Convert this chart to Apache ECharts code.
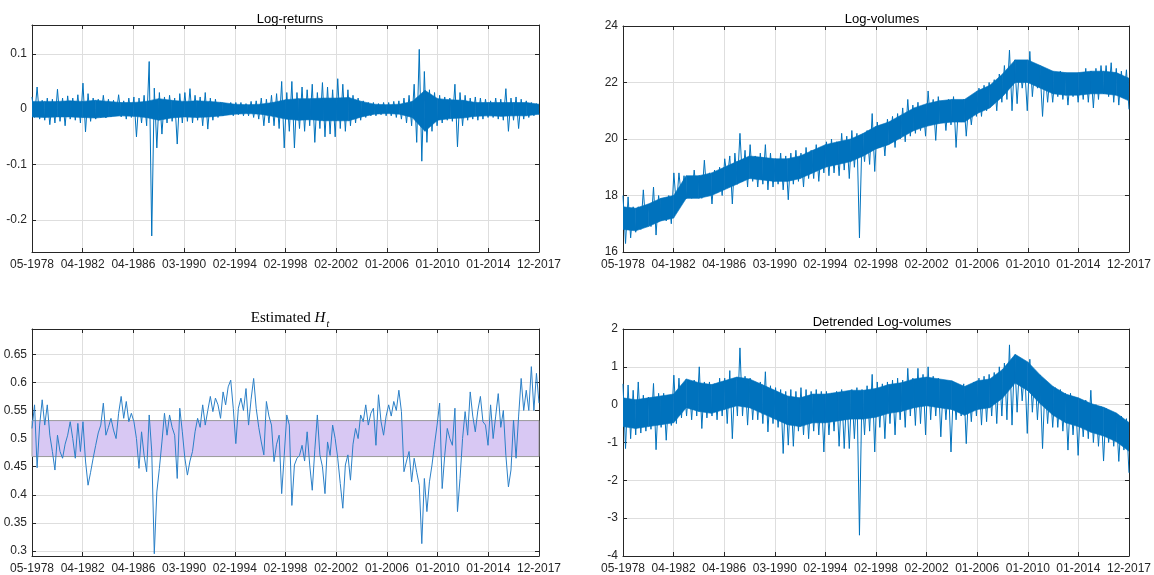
<!DOCTYPE html>
<html>
<head>
<meta charset="utf-8">
<script src="https://cdn.jsdelivr.net/npm/echarts@6/dist/echarts.min.js"></script>
<style>html,body{margin:0;padding:0;background:#fff;}#c{width:1154px;height:575px;}</style>
</head>
<body>
<div id="c"></div>
<script>
const tickLabels = ['05-1978','04-1982','04-1986','03-1990','02-1994','02-1998','02-2002','01-2006','01-2010','01-2014','12-2017'];

// Log-returns: upper / lower envelope per tenth of a tick interval
const retHi = [0.022,0.040,0.016,0.020,0.018,0.036,0.020,0.024,0.020,0.026,
0.047,0.028,0.020,0.018,0.025,0.018,0.016,0.026,0.015,0.020,
0.022,0.020,0.025,0.086,0.038,0.030,0.022,0.025,0.020,0.028,
0.030,0.037,0.025,0.022,0.030,0.020,0.018,0.012,0.010,0.012,
0.012,0.012,0.010,0.014,0.015,0.020,0.018,0.025,0.028,0.050,
0.030,0.050,0.030,0.040,0.035,0.045,0.030,0.048,0.040,0.035,
0.055,0.045,0.035,0.025,0.020,0.015,0.012,0.012,0.010,0.012,
0.012,0.014,0.015,0.020,0.025,0.045,0.108,0.068,0.035,0.030,
0.025,0.022,0.020,0.045,0.030,0.025,0.020,0.022,0.020,0.018,
0.015,0.020,0.018,0.037,0.020,0.022,0.018,0.015,0.012,0.010];
const retLo = [-0.015,-0.018,-0.020,-0.028,-0.025,-0.022,-0.030,-0.018,-0.020,-0.025,
-0.041,-0.022,-0.018,-0.015,-0.016,-0.014,-0.012,-0.014,-0.018,-0.015,
-0.050,-0.025,-0.030,-0.229,-0.070,-0.045,-0.025,-0.022,-0.063,-0.025,
-0.022,-0.025,-0.020,-0.030,-0.036,-0.020,-0.015,-0.012,-0.010,-0.012,
-0.010,-0.012,-0.012,-0.015,-0.018,-0.030,-0.025,-0.030,-0.035,-0.070,
-0.040,-0.070,-0.035,-0.040,-0.030,-0.060,-0.035,-0.050,-0.045,-0.050,
-0.035,-0.040,-0.030,-0.025,-0.020,-0.015,-0.012,-0.012,-0.010,-0.012,
-0.012,-0.015,-0.018,-0.025,-0.030,-0.060,-0.094,-0.060,-0.040,-0.030,
-0.025,-0.020,-0.022,-0.068,-0.030,-0.020,-0.018,-0.020,-0.018,-0.015,
-0.015,-0.018,-0.020,-0.040,-0.020,-0.035,-0.018,-0.015,-0.012,-0.010];
// dense core of the log-returns, every quarter tick interval
const retCoreHi = [0.014,0.014,0.014,0.015,0.014, 0.016,0.014,0.012,0.012, 0.014,0.019,0.016,0.014,
0.015,0.014,0.012,0.009, 0.008,0.009,0.012,0.017, 0.019,0.019,0.020,0.020, 0.021,0.014,0.009,0.008,
0.009,0.014,0.034,0.019, 0.017,0.016,0.012,0.012, 0.012,0.012,0.012,0.009];
const retCoreLo = [-0.014,-0.015,-0.014,-0.014,-0.015, -0.016,-0.014,-0.012,-0.013, -0.015,-0.020,-0.016,-0.014,
-0.015,-0.014,-0.012,-0.009, -0.008,-0.009,-0.013,-0.018, -0.020,-0.019,-0.021,-0.021, -0.021,-0.014,-0.009,-0.008,
-0.009,-0.015,-0.040,-0.020, -0.017,-0.016,-0.013,-0.012, -0.013,-0.012,-0.012,-0.009];

// Log-volumes envelope
const volHi = [18.0,17.95,17.6,17.6,18.2,17.7,18.3,18.0,17.9,18.0,
18.8,18.8,18.7,18.6,18.9,18.7,19.25,18.8,18.9,19.0,
19.3,19.4,19.5,20.2,19.6,19.8,19.4,19.5,19.8,19.5,
19.3,19.5,19.4,19.5,19.6,19.5,19.7,19.6,19.8,19.7,
19.9,20.0,19.9,20.2,20.1,20.3,20.2,20.1,20.3,20.9,
20.6,20.5,20.7,20.8,20.9,21.1,21.4,21.2,21.3,21.2,
21.7,21.4,21.5,21.3,21.4,21.5,21.3,21.4,21.3,21.4,
21.8,21.9,22.0,22.1,22.3,22.6,23.15,22.8,22.7,22.5,
23.1,22.6,22.5,22.4,22.3,22.3,22.4,22.3,22.3,22.3,
22.3,22.5,22.4,22.5,22.6,22.6,22.7,22.5,22.4,22.45];
const volLo = [16.3,16.5,16.7,16.8,16.9,16.9,16.6,17.2,17.1,17.0,
17.6,17.9,17.9,17.9,18.0,17.9,18.0,17.7,18.1,18.0,
18.6,17.7,18.4,18.5,18.3,18.5,18.3,18.4,18.2,18.3,
18.4,18.2,17.85,18.4,18.5,18.3,18.6,18.6,18.5,18.8,
18.7,18.8,18.7,18.9,18.6,19.0,16.5,19.2,19.1,18.85,
19.7,19.4,20.0,19.7,20.0,19.9,20.1,20.2,20.3,20.1,
20.5,19.95,20.6,20.3,20.5,19.7,20.6,20.1,20.5,20.8,
20.8,21.0,21.2,21.0,21.3,21.4,21.0,21.25,21.8,21.0,
21.5,21.8,20.8,21.3,21.3,21.5,21.4,21.2,21.5,21.3,
21.4,21.3,21.1,21.4,21.6,21.5,21.3,21.2,21.5,21.05];
const volCoreHi = [17.6,17.55,17.7,17.9,18.0, 18.7,18.7,18.8,19.0, 19.2,19.4,19.35,19.3,
19.3,19.4,19.6,19.8, 19.9,20.0,20.2,20.45, 20.6,20.85,21.1,21.25, 21.35,21.4,21.4,21.7,
21.9,22.3,22.8,22.8, 22.6,22.4,22.35,22.35, 22.4,22.4,22.35,22.15];
const volCoreLo = [16.8,16.75,16.9,17.1,17.2, 17.9,17.9,18.0,18.2, 18.4,18.6,18.55,18.5,
18.5,18.6,18.8,19.0, 19.1,19.2,19.4,19.65, 19.8,20.05,20.3,20.45, 20.55,20.6,20.6,20.9,
21.1,21.5,22.0,22.0, 21.8,21.6,21.55,21.55, 21.6,21.6,21.55,21.35];

// Estimated H_t trace
const hurst = [0.518,0.560,0.448,0.524,0.569,0.524,0.560,0.506,0.477,0.444,
0.506,0.477,0.465,0.490,0.506,0.530,0.500,0.465,0.527,0.477,
0.530,0.460,0.417,0.440,0.465,0.488,0.510,0.524,0.563,0.506,
0.520,0.536,0.515,0.500,0.545,0.575,0.536,0.566,0.530,0.545,
0.530,0.500,0.447,0.512,0.470,0.441,0.542,0.477,0.295,0.405,
0.447,0.494,0.545,0.506,0.542,0.520,0.506,0.429,0.554,0.512,
0.465,0.435,0.460,0.477,0.512,0.536,0.520,0.560,0.524,0.550,
0.575,0.548,0.572,0.560,0.536,0.583,0.560,0.592,0.604,0.554,
0.491,0.554,0.572,0.550,0.589,0.524,0.570,0.607,0.554,0.520,
0.494,0.471,0.566,0.540,0.524,0.459,0.490,0.506,0.402,0.470,
0.542,0.524,0.381,0.453,0.465,0.470,0.488,0.460,0.512,0.453,
0.408,0.480,0.542,0.471,0.450,0.402,0.494,0.470,0.524,0.500,
0.465,0.420,0.376,0.453,0.471,0.426,0.490,0.518,0.500,0.542,
0.530,0.560,0.524,0.545,0.554,0.488,0.578,0.530,0.506,0.540,
0.560,0.540,0.566,0.550,0.586,0.548,0.441,0.460,0.477,0.423,
0.465,0.440,0.417,0.313,0.429,0.370,0.423,0.453,0.490,0.524,
0.563,0.411,0.470,0.518,0.500,0.488,0.554,0.370,0.429,0.500,
0.548,0.506,0.583,0.540,0.512,0.550,0.575,0.530,0.524,0.488,
0.560,0.500,0.540,0.580,0.520,0.550,0.470,0.414,0.444,0.533,
0.465,0.540,0.607,0.550,0.586,0.550,0.628,0.550,0.616,0.563];
const hurstBand = [0.468, 0.532];

// Detrended log-volumes envelope
const detHi = [0.55,0.52,0.38,0.60,0.25,0.20,0.56,0.30,0.30,0.25,
0.78,0.70,0.55,0.60,0.65,1.00,0.60,0.60,0.55,0.70,
0.70,0.90,0.70,1.50,0.75,0.70,0.60,0.60,0.87,0.50,
0.45,0.40,0.35,0.40,0.35,0.45,0.40,0.35,0.40,0.35,
0.35,0.30,0.35,0.40,0.30,0.40,0.45,0.40,0.50,0.80,
0.60,0.55,0.60,0.65,0.70,0.65,0.96,0.70,0.96,0.80,
1.00,0.75,0.70,0.60,0.55,0.50,0.50,0.55,0.50,0.60,
0.70,0.75,0.80,0.85,1.00,1.10,1.58,1.30,1.15,1.00,
1.20,0.85,0.75,0.60,0.50,0.45,0.40,0.30,0.30,0.20,
0.10,0.12,0.38,0.00,-0.05,-0.10,-0.20,-0.25,-0.30,-0.37];
const detLo = [-1.16,-0.90,-0.80,-0.75,-0.70,-0.65,-1.19,-0.60,-0.94,-0.55,
-0.50,-0.35,-0.30,-0.40,-0.30,-0.63,-0.35,-0.30,-0.40,-0.30,
-0.50,-0.90,-0.30,-0.30,-0.54,-0.40,-0.40,-0.50,-0.72,-0.50,
-0.60,-1.29,-1.07,-1.10,-0.70,-0.80,-0.90,-0.70,-0.80,-1.25,
-0.80,-0.70,-1.10,-1.16,-1.16,-0.90,-3.45,-0.80,-0.70,-1.25,
-0.60,-0.90,-0.50,-0.80,-0.40,-0.60,-0.30,-0.55,-0.50,-0.80,
-0.40,-0.30,-0.85,-0.40,-1.25,-0.40,-0.30,-1.03,-0.45,-0.30,
-0.54,-0.45,-0.30,-0.50,-0.30,-0.40,-0.54,-0.20,0.10,-0.76,
-0.20,-0.40,-1.16,-0.50,-0.60,-0.60,-0.70,-1.20,-0.80,-1.34,
-0.85,-0.90,-1.00,-1.10,-1.49,-1.00,-1.10,-1.50,-1.20,-1.80];
const detCoreHi = [0.18,0.13,0.18,0.23,0.28, 0.68,0.58,0.53,0.63, 0.73,0.68,0.53,0.38,
0.23,0.18,0.28,0.28, 0.33,0.38,0.38,0.43, 0.53,0.58,0.68,0.73, 0.68,0.63,0.48,0.63,
0.68,0.93,1.33,1.13, 0.78,0.48,0.28,0.18, 0.03,-0.07,-0.22,-0.47];
const detCoreLo = [-0.58,-0.63,-0.58,-0.53,-0.48, -0.08,-0.18,-0.23,-0.13, -0.03,-0.08,-0.23,-0.38,
-0.53,-0.58,-0.48,-0.48, -0.43,-0.38,-0.38,-0.33, -0.23,-0.18,-0.08,-0.03, -0.08,-0.13,-0.28,-0.13,
-0.08,0.17,0.57,0.37, 0.02,-0.28,-0.48,-0.58, -0.73,-0.83,-0.98,-1.23];

function interleave(hi, lo) { const out = []; for (let i = 0; i < hi.length; i++) { out.push(hi[i]); out.push(lo[i]); } return out; }
function toXY(vals) { const n = vals.length; return vals.map((v, j) => [j * 10 / (n - 1), v]); }
// band segments: [x0, lo0, hi0, x1, lo1, hi1]
function toSegs(lo, hi) {
  const n = lo.length, out = [];
  for (let i = 0; i < n - 1; i++) out.push([i * 10 / (n - 1), lo[i], hi[i], (i + 1) * 10 / (n - 1), lo[i + 1], hi[i + 1]]);
  return out;
}

const FONT = 'Liberation Sans';
const TXT = '#262626';
const BLUE = '#0072BD';
const grids = [
  {left: 32, top: 25, width: 507, height: 227},
  {left: 623, top: 26, width: 507, height: 226},
  {left: 32, top: 329, width: 507, height: 227},
  {left: 623, top: 329, width: 507, height: 227}
];
const yDefs = [
  {min: -0.258, max: 0.152, ticks: [-0.2, -0.1, 0, 0.1]},
  {min: 16, max: 24, ticks: [16, 18, 20, 22, 24]},
  {min: 0.291, max: 0.695, ticks: [0.3, 0.35, 0.4, 0.45, 0.5, 0.55, 0.6, 0.65]},
  {min: -4, max: 2, ticks: [-4, -3, -2, -1, 0, 1, 2]}
];
const xTicks = [0,1,2,3,4,5,6,7,8,9,10];

const xAxes = [], yAxes = [];
grids.forEach((g, k) => {
  xAxes.push({
    type: 'value', gridIndex: k, min: 0, max: 10, position: 'bottom',
    axisLine: {show: true, onZero: false, lineStyle: {color: TXT, width: 1}},
    axisTick: {show: true, inside: true, length: 4, customValues: xTicks, lineStyle: {color: TXT}},
    axisLabel: {show: true, customValues: xTicks, margin: 7, color: TXT, fontFamily: FONT, fontSize: 12,
      formatter: v => tickLabels[Math.round(v)]},
    splitLine: {show: true, lineStyle: {color: '#dedede', width: 1}}
  });
  xAxes.push({
    type: 'value', gridIndex: k, min: 0, max: 10, position: 'top',
    axisLine: {show: true, onZero: false, lineStyle: {color: TXT, width: 1}},
    axisTick: {show: true, inside: true, length: 4, customValues: xTicks, lineStyle: {color: TXT}},
    axisLabel: {show: false}, splitLine: {show: false}
  });
  const d = yDefs[k];
  yAxes.push({
    type: 'value', gridIndex: k, min: d.min, max: d.max, position: 'left',
    axisLine: {show: true, onZero: false, lineStyle: {color: TXT, width: 1}},
    axisTick: {show: true, inside: true, length: 4, customValues: d.ticks, lineStyle: {color: TXT}},
    axisLabel: {show: true, customValues: d.ticks, margin: 5, color: TXT, fontFamily: FONT, fontSize: 12},
    splitLine: {show: true, lineStyle: {color: '#dedede', width: 1}}
  });
  yAxes.push({
    type: 'value', gridIndex: k, min: d.min, max: d.max, position: 'right',
    axisLine: {show: true, onZero: false, lineStyle: {color: TXT, width: 1}},
    axisTick: {show: true, inside: true, length: 4, customValues: d.ticks, lineStyle: {color: TXT}},
    axisLabel: {show: false}, splitLine: {show: false}
  });
});

function lineSeries(k, data, color, width, extra) {
  return Object.assign({
    type: 'line', xAxisIndex: 2 * k, yAxisIndex: 2 * k, data: data,
    showSymbol: false, symbol: 'none', animation: false, silent: true,
    lineStyle: {color: color, width: width}, z: 3
  }, extra || {});
}
// dense core drawn as filled band between coreLo and coreHi
function coreBand(k, lo, hi) {
  return {
    type: 'custom', xAxisIndex: 2 * k, yAxisIndex: 2 * k, data: toSegs(lo, hi),
    encode: {x: [0, 3], y: [1, 2, 4, 5]}, clip: true, silent: true, animation: false, z: 2,
    renderItem: (params, api) => {
      const pts = [
        api.coord([api.value(0), api.value(1)]),
        api.coord([api.value(3), api.value(4)]),
        api.coord([api.value(3), api.value(5)]),
        api.coord([api.value(0), api.value(2)])
      ];
      return {type: 'polygon', shape: {points: pts}, style: {fill: BLUE, stroke: BLUE, lineWidth: 0.6}};
    }
  };
}

const chart = echarts.init(document.getElementById('c'), null, {renderer: 'canvas'});
chart.setOption({
  backgroundColor: '#fff',
  animation: false,
  title: [
    {text: 'Log-returns', left: 285, top: 8, textAlign: 'center', textStyle: {fontFamily: FONT, fontSize: 13, fontWeight: 'normal', color: '#000'}},
    {text: 'Log-volumes', left: 877, top: 8, textAlign: 'center', textStyle: {fontFamily: FONT, fontSize: 13, fontWeight: 'normal', color: '#000'}},
    {text: '{a|Estimated }{h|H}{t|t}', left: 285, top: 303, textAlign: 'center',
      textStyle: {fontWeight: 'normal', rich: {
        a: {fontFamily: 'Liberation Serif', fontSize: 15, fontWeight: 'normal', color: '#000', lineHeight: 18, verticalAlign: 'bottom'},
        h: {fontFamily: 'Liberation Serif', fontSize: 15, fontWeight: 'normal', fontStyle: 'italic', color: '#000', lineHeight: 18, verticalAlign: 'bottom'},
        t: {fontFamily: 'Liberation Serif', fontSize: 10, fontWeight: 'normal', fontStyle: 'italic', color: '#000', lineHeight: 8, verticalAlign: 'bottom', padding: [0, 0, -3, 1]}
      }}},
    {text: 'Detrended Log-volumes', left: 877, top: 311, textAlign: 'center', textStyle: {fontFamily: FONT, fontSize: 13, fontWeight: 'normal', color: '#000'}}
  ],
  grid: grids.map(g => Object.assign({containLabel: false, show: false}, g)),
  xAxis: xAxes,
  yAxis: yAxes,
  series: [
    coreBand(0, retCoreLo, retCoreHi),
    lineSeries(0, toXY(interleave(retHi, retLo)), BLUE, 1),
    coreBand(1, volCoreLo, volCoreHi),
    lineSeries(1, toXY(interleave(volHi, volLo)), BLUE, 1),
    lineSeries(2, toXY(hurst), '#2b80c8', 1, {
      markArea: {silent: true, itemStyle: {color: '#d8c8f3', borderColor: '#9a9a9a', borderWidth: 1},
        data: [[{xAxis: 0, yAxis: hurstBand[0]}, {xAxis: 10, yAxis: hurstBand[1]}]]}
    }),
    coreBand(3, detCoreLo, detCoreHi),
    lineSeries(3, toXY(interleave(detHi, detLo)), BLUE, 1)
  ]
});
</script>
</body>
</html>
